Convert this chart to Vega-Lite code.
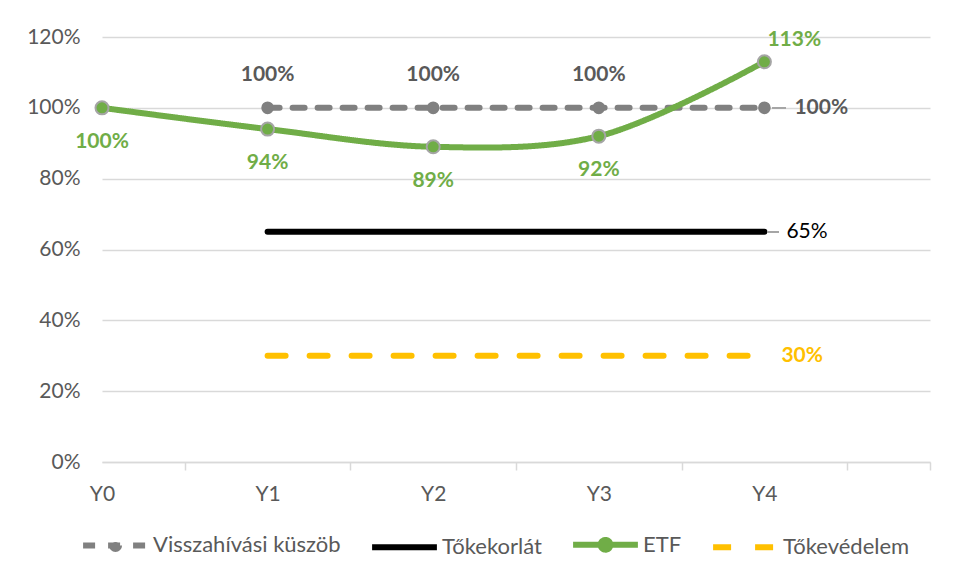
{
  "$schema": "https://vega.github.io/schema/vega-lite/v6.json",
  "autosize": "none",
  "width": 828,
  "height": 425,
  "padding": {"left": 102, "top": 37, "right": 32, "bottom": 114},
  "background": "white",
  "config": {
    "view": {"stroke": null},
    "font": "Lato",
    "axis": {"labelFont": "Lato", "labelFontSize": 21, "labelColor": "#595959"},
    "legend": {"labelFont": "Lato", "labelFontSize": 22, "labelColor": "#595959", "labelLimit": 400}
  },
  "data": {
    "values": [
      {"t": 1, "series": "Visszahívási küszöb", "v": 1.0},
      {"t": 2, "series": "Visszahívási küszöb", "v": 1.0},
      {"t": 3, "series": "Visszahívási küszöb", "v": 1.0},
      {"t": 4, "series": "Visszahívási küszöb", "v": 1.0},
      {"t": 1, "series": "Tőkekorlát", "v": 0.65},
      {"t": 2, "series": "Tőkekorlát", "v": 0.65},
      {"t": 3, "series": "Tőkekorlát", "v": 0.65},
      {"t": 4, "series": "Tőkekorlát", "v": 0.65},
      {"t": 0, "series": "ETF", "v": 1.0},
      {"t": 1, "series": "ETF", "v": 0.94},
      {"t": 2, "series": "ETF", "v": 0.89},
      {"t": 3, "series": "ETF", "v": 0.92},
      {"t": 4, "series": "ETF", "v": 1.13},
      {"t": 1, "series": "Tőkevédelem", "v": 0.3},
      {"t": 2, "series": "Tőkevédelem", "v": 0.3},
      {"t": 3, "series": "Tőkevédelem", "v": 0.3},
      {"t": 4, "series": "Tőkevédelem", "v": 0.3}
    ]
  },
  "encoding": {
    "x": {
      "field": "t", "type": "quantitative",
      "scale": {"domain": [0, 5], "nice": false, "zero": false},
      "axis": {
        "title": null,
        "values": [0, 0.5, 1, 1.5, 2, 2.5, 3, 3.5, 4, 4.5, 5],
        "labelExpr": "(datum.value % 1 === 0 && datum.value < 5) ? 'Y' + datum.value : ''",
        "grid": false,
        "domainColor": "#D9D9D9",
        "domainWidth": 1.5,
        "tickColor": "#D9D9D9",
        "tickWidth": 1.5,
        "tickSize": 8,
        "tickOpacity": {"condition": {"test": "datum.value % 1 === 0 && datum.value < 5", "value": 0}, "value": 1},
        "labelPadding": 13,
        "labelFlush": false
      }
    },
    "y": {
      "field": "v", "type": "quantitative",
      "scale": {"domain": [0, 1.2], "nice": false},
      "axis": {
        "title": null,
        "values": [0, 0.2, 0.4, 0.6, 0.8, 1.0, 1.2],
        "format": ".0%",
        "domain": false,
        "ticks": false,
        "gridColor": "#D9D9D9",
        "gridWidth": 1.5,
        "labelPadding": 22
      }
    }
  },
  "layer": [
    {
      "transform": [{"filter": "datum.series !== 'ETF'"}],
      "mark": {"type": "line", "strokeWidth": 6, "strokeCap": "round"},
      "encoding": {
        "color": {
          "field": "series", "type": "nominal",
          "scale": {
            "domain": ["Visszahívási küszöb", "Tőkekorlát", "ETF", "Tőkevédelem"],
            "range": ["#808080", "#000000", "#70AD47", "#FFC000"]
          },
          "legend": {
            "title": null,
            "orient": "none",
            "direction": "horizontal",
            "legendX": -22,
            "legendY": 472,
            "symbolType": "stroke",
            "symbolSize": 4200,
            "symbolStrokeWidth": 6,
            "labelOffset": 2,
            "columnPadding": 19,
            "encode": {
              "symbols": {
                "update": {
                  "shape": {"signal": "datum.value === 'Visszahívási küszöb' ? 'M-1,0H1M0.11,0A0.11,0.11,0,1,1,-0.11,0A0.11,0.11,0,1,1,0.11,0Z' : datum.value === 'ETF' ? 'M-1,0H1M0.15,0A0.15,0.15,0,1,1,-0.15,0A0.15,0.15,0,1,1,0.15,0Z' : 'stroke'"},
                  "fill": {"signal": "datum.value === 'ETF' ? '#70AD47' : datum.value === 'Visszahívási küszöb' ? '#808080' : 'transparent'"},
                  "strokeDash": {"signal": "datum.value === 'Visszahívási küszöb' ? [12, 15, 11, 15, 300, 1] : datum.value === 'Tőkevédelem' ? [16, 30, 16, 30] : [1, 0]"}
                }
              }
            }
          }
        },
        "strokeDash": {
          "field": "series", "type": "nominal",
          "scale": {
            "domain": ["Visszahívási küszöb", "Tőkekorlát", "ETF", "Tőkevédelem"],
            "range": [[12, 13], [1, 0], [1, 0], [18, 24]]
          },
          "legend": {
            "title": null,
            "orient": "none",
            "direction": "horizontal",
            "legendX": -22,
            "legendY": 472,
            "symbolType": "stroke",
            "symbolSize": 4200,
            "symbolStrokeWidth": 6,
            "labelOffset": 2,
            "columnPadding": 19,
            "encode": {
              "symbols": {
                "update": {
                  "shape": {"signal": "datum.value === 'Visszahívási küszöb' ? 'M-1,0H1M0.11,0A0.11,0.11,0,1,1,-0.11,0A0.11,0.11,0,1,1,0.11,0Z' : datum.value === 'ETF' ? 'M-1,0H1M0.15,0A0.15,0.15,0,1,1,-0.15,0A0.15,0.15,0,1,1,0.15,0Z' : 'stroke'"},
                  "fill": {"signal": "datum.value === 'ETF' ? '#70AD47' : datum.value === 'Visszahívási küszöb' ? '#808080' : 'transparent'"},
                  "strokeDash": {"signal": "datum.value === 'Visszahívási küszöb' ? [12, 15, 11, 15, 300, 1] : datum.value === 'Tőkevédelem' ? [16, 30, 16, 30] : [1, 0]"}
                }
              }
            }
          }
        }
      }
    },
    {
      "transform": [{"filter": "datum.series === 'ETF'"}],
      "mark": {"type": "line", "strokeWidth": 6, "strokeCap": "round", "interpolate": "catmull-rom"},
      "encoding": {
        "color": {"field": "series", "type": "nominal"},
        "strokeDash": {"field": "series", "type": "nominal"}
      }
    },
    {
      "transform": [{"filter": "datum.series === 'Visszahívási küszöb'"}],
      "mark": {"type": "point", "shape": "circle", "filled": true, "size": 160, "color": "#808080", "opacity": 1},
      "encoding": {}
    },
    {
      "transform": [{"filter": "datum.series === 'ETF'"}],
      "mark": {"type": "point", "shape": "circle", "filled": true, "size": 170, "fill": "#70AD47", "stroke": "#A5A5A5", "strokeWidth": 2, "opacity": 1},
      "encoding": {}
    },
    {
      "mark": {"type": "rule", "color": "#A6A6A6", "strokeWidth": 1.5},
      "encoding": {"x": {"datum": 4.05}, "x2": {"datum": 4.13}, "y": {"datum": 1.0}}
    },
    {
      "mark": {"type": "rule", "color": "#A6A6A6", "strokeWidth": 1.5},
      "encoding": {"x": {"datum": 4.02}, "x2": {"datum": 4.085}, "y": {"datum": 0.65}}
    },
    {
      "transform": [{"filter": "datum.series === 'Visszahívási küszöb' && datum.t < 4"}],
      "mark": {"type": "text", "fontWeight": "bold", "fontSize": 21, "color": "#595959", "dy": -33, "baseline": "middle"},
      "encoding": {"text": {"field": "v", "format": ".0%"}}
    },
    {
      "transform": [{"filter": "datum.series === 'Visszahívási küszöb' && datum.t === 4"}],
      "mark": {"type": "text", "fontWeight": "bold", "fontSize": 21, "color": "#595959", "dx": 30, "align": "left", "baseline": "middle"},
      "encoding": {"text": {"field": "v", "format": ".0%"}}
    },
    {
      "transform": [{"filter": "datum.series === 'ETF' && datum.t < 4"}],
      "mark": {"type": "text", "fontWeight": "bold", "fontSize": 21, "color": "#70AD47", "dy": 34, "baseline": "middle"},
      "encoding": {"text": {"field": "v", "format": ".0%"}}
    },
    {
      "transform": [{"filter": "datum.series === 'ETF' && datum.t === 4"}],
      "mark": {"type": "text", "fontWeight": "bold", "fontSize": 21, "color": "#70AD47", "dx": 3, "dy": -22, "align": "left", "baseline": "middle"},
      "encoding": {"text": {"field": "v", "format": ".0%"}}
    },
    {
      "transform": [{"filter": "datum.series === 'Tőkekorlát' && datum.t === 4"}],
      "mark": {"type": "text", "fontSize": 21, "color": "#000000", "dx": 22, "align": "left", "baseline": "middle"},
      "encoding": {"text": {"field": "v", "format": ".0%"}}
    },
    {
      "transform": [{"filter": "datum.series === 'Tőkevédelem' && datum.t === 4"}],
      "mark": {"type": "text", "fontWeight": "bold", "fontSize": 21, "color": "#FFC000", "dx": 17, "align": "left", "baseline": "middle"},
      "encoding": {"text": {"field": "v", "format": ".0%"}}
    }
  ]
}
